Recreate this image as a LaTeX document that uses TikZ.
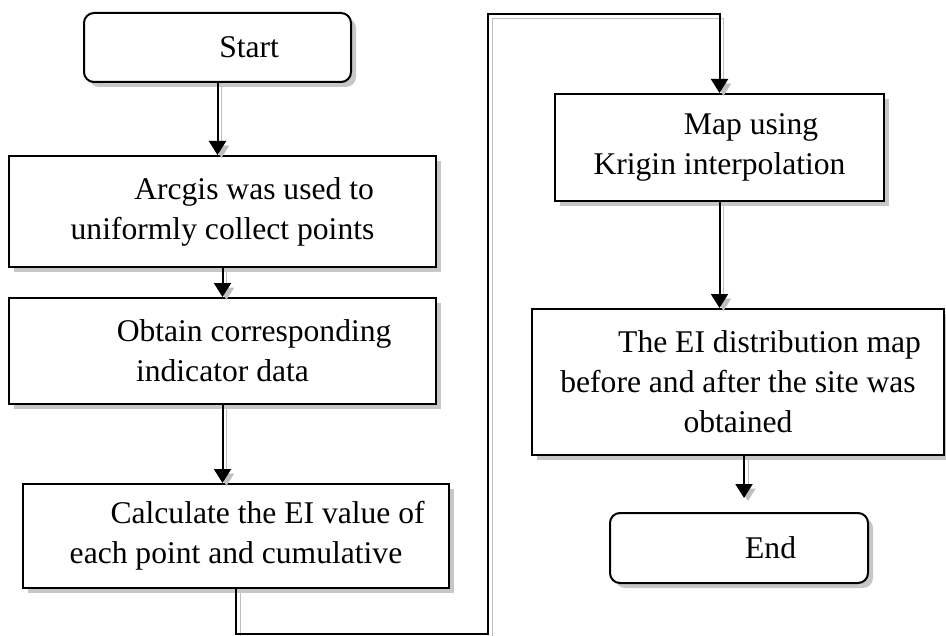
\documentclass[tikz,border=0pt]{standalone}
\usepackage{fontspec}
\setmainfont{Liberation Serif}
\usetikzlibrary{arrows.meta,shadows}

\newcommand{\firstgap}{\hspace*{2em}}

\tikzset{
  stepbox/.style={draw, line width=1pt, fill=white, align=center, inner sep=0pt,
    drop shadow={shadow xshift=2.5pt, shadow yshift=-2.5pt, fill=black!22, opacity=1}},
  termbox/.style={stepbox, rounded corners=5pt},
  flow/.style={line width=1pt, -{Triangle[width=8.5pt,length=7pt]},
    preaction={draw=black!25, transform canvas={shift={(2pt,-2pt)}}}},
}

\begin{document}
\begin{tikzpicture}[x=0.5pt, y=-0.5pt, font=\fontsize{15.8}{20}\selectfont]
  \useasboundingbox (0,0) rectangle (946,636);
  % left column
  \node[termbox, minimum width=133.5pt, minimum height=34.5pt] (start) at (217.5,47.5)
    {\firstgap Start};
  \node[stepbox, minimum width=213.5pt, minimum height=55.5pt] (arcgis) at (222.5,211.5)
    {\firstgap Arcgis was used to\\uniformly collect points};
  \node[stepbox, minimum width=213.5pt, minimum height=53pt] (obtain) at (222.5,351)
    {\firstgap Obtain corresponding\\indicator data};
  \node[stepbox, minimum width=213pt, minimum height=52pt] (calc) at (236,536)
    {\firstgap Calculate the EI value of\\each point and cumulative};
  % right column
  \node[stepbox, minimum width=164.5pt, minimum height=53.5pt] (krigin) at (719.5,147.5)
    {\firstgap Map using\\Krigin interpolation};
  \node[stepbox, minimum width=206pt, minimum height=73pt] (dist) at (738,382)
    {\firstgap The EI distribution map\\before and after the site was\\obtained};
  \node[termbox, minimum width=129pt, minimum height=35pt] (finish) at (739,548)
    {\firstgap End};

  % connectors
  \coordinate (low) at (236,634);
  \coordinate (high) at (488,14);
  \draw[flow] (start) -- (start |- arcgis.north);
  \draw[flow] (arcgis) -- (obtain);
  \draw[flow] (obtain.south) -- (obtain.south |- calc.north);
  \draw[flow] (calc.south) -- (low) -| (high) -| (krigin.north);
  \draw[flow] (krigin.south) -- (krigin.south |- dist.north);
  \draw[flow, shorten >=7pt] ([xshift=3pt]dist.south) -- ([xshift=3pt]dist.south |- finish.north);
\end{tikzpicture}
\end{document}
